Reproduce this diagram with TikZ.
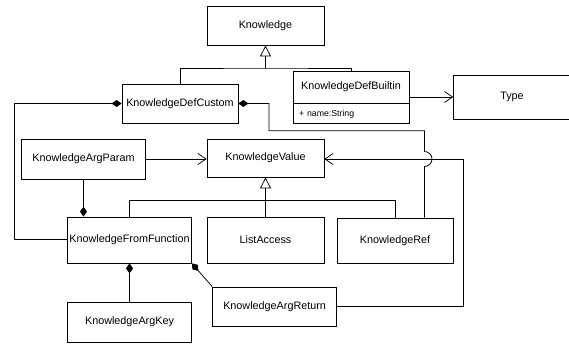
\documentclass[tikz,border=0pt]{standalone}
\usepackage{fontspec}
\setmainfont{Liberation Sans}
\usepackage{tikz}
\usetikzlibrary{arrows.meta}

\begin{document}
\begin{tikzpicture}[x=1pt, y=-1pt, line width=0.75pt,
		classbox/.style={draw, inner sep=0pt, font=\fontsize{10.8pt}{13pt}\selectfont},
		inherit/.style={-{Triangle[open, length=11pt, width=11pt]}},
		assoc/.style={-{Straight Barb[length=8pt, width=11pt]}},
		comp/.style={{Diamond[length=10pt, width=7pt]}-}]
	\useasboundingbox (0,0) rectangle (569,345);
	
	% Top level classes
	\node[classbox, minimum width=117pt, minimum height=39pt] (know) at (265.5,25.5) {Knowledge};
	\node[classbox, minimum width=116pt, minimum height=39pt] (defcustom) at (180,103.5) {KnowledgeDefCustom};
	\node[classbox, minimum width=116pt, minimum height=32pt] (builtin) at (351,87) {KnowledgeDefBuiltin};
	\node[classbox, minimum width=116pt, minimum height=20pt, anchor=north, text width=104pt, font=\fontsize{8.75pt}{10pt}\selectfont] (builtinattr) at (builtin.south) {+ name:String};
	\node[classbox, minimum width=117pt, minimum height=44pt] (type) at (512,97) {Type};
	
	% Value classes
	\node[classbox, minimum width=124pt, minimum height=40pt] (argparam) at (83.5,159) {KnowledgeArgParam};
	\node[classbox, minimum width=117pt, minimum height=38pt] (value) at (265.5,158) {KnowledgeValue};
	\node[classbox, minimum width=124pt, minimum height=46pt] (fromfunc) at (129.5,240) {KnowledgeFromFunction};
	\node[classbox, minimum width=117pt, minimum height=46pt] (listaccess) at (265.5,240) {ListAccess};
	\node[classbox, minimum width=116pt, minimum height=45pt] (ref) at (395,240.5) {KnowledgeRef};
	
	% Argument classes
	\node[classbox, minimum width=124pt, minimum height=40pt] (argkey) at (129.5,322) {KnowledgeArgKey};
	\node[classbox, minimum width=124pt, minimum height=39.5pt] (argreturn) at (274.6,306.7) {KnowledgeArgReturn};
	
	% Generalization to Knowledge
	\coordinate (kjoin) at (265.5,68);
	\draw (defcustom.north) |- (kjoin) -| (builtin.north);
	\draw[inherit] (kjoin) -- (know.south);
	
	% Generalization to KnowledgeValue
	\coordinate (vjoin) at (265.5,200.7);
	\draw (fromfunc.north) |- (vjoin) -| (ref.north);
	\draw (listaccess.north) -- (vjoin);
	\draw[inherit] (vjoin) -- (value.south);
	
	% Associations
	\draw[assoc] (builtin.east |- type.west) -- (type.west);
	\draw[assoc] (argparam.east) -- (value.west |- argparam.east);
	\coordinate (rbend) at (463.5,230);
	\draw[assoc] (argreturn.east) -| (rbend) |- ([yshift=-1pt]value.east);
	
	% Compositions
	\coordinate (lbend) at (14,239);
	\draw[comp] (defcustom.west) -| (lbend) -- (fromfunc.west |- lbend);
	\coordinate (refin) at ([xshift=29.5pt]ref.north);
	\draw[comp] (defcustom.east) -- (269,103.5) -- (269,130.7) -| (424.5,151.5)
		arc[start angle=90, end angle=-90, radius=7.5pt] -- (refin);
	\draw[comp] (fromfunc.north -| argparam.south) -- (argparam.south);
	\draw[comp] (fromfunc.south) -- (argkey.north);
	\draw[comp] (fromfunc.south east) -- (argreturn.north west);
\end{tikzpicture}
\end{document}
